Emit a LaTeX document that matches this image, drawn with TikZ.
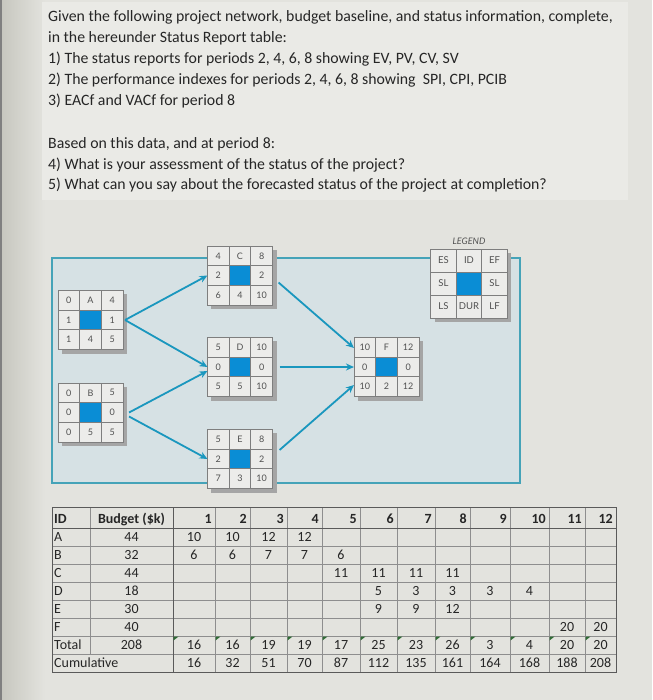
\documentclass[tikz,border=0pt]{standalone}
\usepackage{fontspec}
\setmainfont{Carlito}
\newfontfamily\netfont{Lato}
\usetikzlibrary{positioning,arrows.meta}
\definecolor{paper}     {HTML}{E3E3DE}
\definecolor{paperlt}   {HTML}{EAEAE6}
\definecolor{paperdk}   {HTML}{C6C6BE}
\definecolor{panelfill} {HTML}{D6E1E4}
\definecolor{panelline} {HTML}{45A3B8}
\definecolor{arrowteal} {HTML}{1A97BE}
\definecolor{cellfill}  {HTML}{ECECEA}
\definecolor{cellline}  {HTML}{7E7E7E}
\definecolor{coreblue}  {HTML}{0A8DD5}
\definecolor{shadegrey} {HTML}{A5A5A5}
\definecolor{celltext}  {HTML}{505050}
\definecolor{gridgrey}  {HTML}{8E8E8E}
\definecolor{frameink}  {HTML}{5A5A5A}
\definecolor{flaggreen} {HTML}{2F6B35}
\definecolor{ink}       {HTML}{262626}
% #1 name, #2 centre, #3 ES, #4 ID, #5 EF, #6 SL, #7 LS, #8 DUR, #9 LF
\newcommand{\netbox}[9]{%
  \node[boxarea] (#1) at (#2) {};
  \fill[shadegrey] ([xshift=4pt,yshift=-4pt]#1.south west)
    rectangle ([xshift=4pt,yshift=-4pt]#1.north east);
  \node[cell, anchor=north west] (#1-es) at (#1.north west) {#3};
  \node[cell, anchor=north]      (#1-id) at (#1.north)      {#4};
  \node[cell, anchor=north east] (#1-ef) at (#1.north east) {#5};
  \node[cell, anchor=west]       (#1-sl) at (#1.west)       {#6};
  \node[cell, core]              (#1-c)  at (#1.center)     {};
  \node[cell, anchor=east]       (#1-sr) at (#1.east)       {#6};
  \node[cell, anchor=south west] (#1-ls) at (#1.south west) {#7};
  \node[cell, anchor=south]      (#1-du) at (#1.south)      {#8};
  \node[cell, anchor=south east] (#1-lf) at (#1.south east) {#9};
}
\tikzset{
  qline/.style   ={anchor=base west, inner sep=0pt, text=ink,
                   font=\fontsize{15.8}{18}\selectfont},
  boxarea/.style ={minimum width=65.1pt, minimum height=59.1pt,
                   inner sep=0pt, outer sep=0pt},
  cell/.style    ={draw=cellline, line width=0.8pt, fill=cellfill,
                   minimum width=21.7pt, minimum height=19.7pt,
                   inner sep=0pt, outer sep=0pt, text=celltext,
                   font=\netfont\fontsize{9}{9}\selectfont},
  core/.style    ={fill=coreblue},
  panel/.style   ={draw=panelline, line width=1.4pt, fill=panelfill},
  ar/.style      ={-{Stealth[length=8pt,width=7pt]}, draw=arrowteal,
                   line width=1.8pt},
  grid/.style    ={draw=gridgrey, line width=0.6pt},
  tblframe/.style={draw=frameink, line width=1pt},
  tcell/.style   ={anchor=base, inner sep=0pt, text=ink,
                   font=\fontsize{14}{14}\selectfont},
  thead/.style   ={anchor=base east, inner sep=0pt, text=ink,
                   font=\bfseries\fontsize{14}{14}\selectfont}
}

\begin{document}
\begin{tikzpicture}[x=1pt,y=-1pt]
\useasboundingbox (0,0) rectangle (652,700);
\fill[paper] (0,0) rectangle (652,700);
\shade[left color=paperdk, right color=paper] (0,0) rectangle (45,700);
\fill[paperlt] (42,2) rectangle (628,200);
\draw[gray, line width=1.5pt] (0.75,0) -- (0.75,700);

\node[qline] (q1) at (48,22)
  {Given the following project network, budget baseline, and status information, complete,};
\node[qline] (q2) at (48,43) {in the hereunder Status Report table:};
\node[qline] (q3) at (48,64) {1) The status reports for periods 2, 4, 6, 8 showing EV, PV, CV, SV};
\node[qline] (q4) at (48,85) {2) The performance indexes for periods 2, 4, 6, 8 showing\ \ SPI, CPI, PCIB};
\node[qline] (q5) at (48,106) {3) EACf and VACf for period 8};
\node[qline] (q6) at (48,149) {Based on this data, and at period 8:};
\node[qline] (q7) at (48,170) {4) What is your assessment of the status of the project?};
\node[qline] (q8) at (48,190) {5) What can you say about the forecasted status of the project at completion?};

\draw[panel] (52,258) rectangle (520,483);

\node[font=\netfont\itshape\fontsize{9}{9}\selectfont, text=celltext]
  (legtitle) at (469,241) {LEGEND};
\begin{scope}[boxarea/.append style={minimum width=76.5pt, minimum height=69pt},
              cell/.append style={minimum width=25.5pt, minimum height=23pt,
                font=\netfont\fontsize{9.5}{9.5}\selectfont}]
\netbox{leg}{469,283.5}{ES}{ID}{EF}{SL}{LS}{DUR}{LF}
\end{scope}
\netbox{A}{90.5,320}{0}{A}{4}{1}{1}{4}{5}
\netbox{B}{90.5,412.5}{0}{B}{5}{0}{0}{5}{5}
\netbox{C}{240,275.5}{4}{C}{8}{2}{6}{4}{10}
\netbox{D}{240,367}{5}{D}{10}{0}{5}{5}{10}
\netbox{E}{240,459}{5}{E}{8}{2}{7}{3}{10}
\netbox{F}{386.5,367}{10}{F}{12}{0}{10}{2}{12}

\draw[ar] ([xshift=2pt]A.east) -- (C.west);
\draw[ar] ([xshift=2pt]A.east) -- (D.west);
\draw[ar] ([xshift=6pt]B.east) -- ([yshift=-4pt]D.west);
\draw[ar] ([xshift=6pt,yshift=-4pt]B.east) -- (E.west);
\draw[ar] ([xshift=6pt,yshift=-7pt]C.east) -- ([yshift=19pt]F.west);
\draw[ar] ([xshift=7pt]D.east) -- (F.west);
\draw[ar] ([xshift=7pt,yshift=9pt]E.east) -- ([yshift=-18pt]F.west);

\foreach \y in {546,564,582,600,618,636,654}
  \draw[grid] (52,\y) -- (616,\y);
\foreach \x in {215,250,287,322,360,397,435,470,510,549,585}
  \draw[grid] (\x,507) -- (\x,672);
\draw[grid] (90,507) -- (90,654);
\draw[tblframe] (173,507) -- (173,672);
\draw[tblframe] (52,528) -- (616,528);
\draw[tblframe] (52,507) rectangle (616,672);

\foreach \x in {173,215,250,287,322,360,397,435,470,510,549,585}
  \fill[flaggreen] (\x+0.5,636.5) -- ++(5,0) -- ++(-5,4) -- cycle;

\node[thead, anchor=base west] (hid) at (54,523) {ID};
\node[thead, anchor=base] (hbud) at (131.5,523) {Budget (\$k)};
\foreach \c [count=\k] in {215,250,287,322,360,397,435,470,510,549,585,616}
  \node[thead] (h\k) at (\c-3,523) {\k};

\foreach \id/\bud [count=\r] in {A/44,B/32,C/44,D/18,E/30,F/40,Total/208}{
  \node[tcell, anchor=base west] (id\r) at (54,523.5+18*\r) {\id};
  \node[tcell] (bud\r) at (131.5,523.5+18*\r) {\bud};
}
\node[tcell, anchor=base west] (cum) at (54,667.5) {Cumulative};

\foreach \c/\r/\v in {1/1/10,2/1/10,3/1/12,4/1/12,
    1/2/6,2/2/6,3/2/7,4/2/7,5/2/6,
    5/3/11,6/3/11,7/3/11,8/3/11,
    6/4/5,7/4/3,8/4/3,9/4/3,10/4/4,
    6/5/9,7/5/9,8/5/12,
    11/6/20,12/6/20,
    1/7/16,2/7/16,3/7/19,4/7/19,5/7/17,6/7/25,7/7/23,8/7/26,
    9/7/3,10/7/4,11/7/20,12/7/20,
    1/8/16,2/8/32,3/8/51,4/8/70,5/8/87,6/8/112,7/8/135,8/8/161,
    9/8/164,10/8/168,11/8/188,12/8/208}{
  \pgfmathsetmacro{\cx}{{194,232.5,268.5,304.5,341,378.5,416,452.5,490,529.5,567,600.5}[\c-1]}
  \node[tcell] at (\cx,523.5+18*\r) {\v};
}
\end{tikzpicture}
\end{document}
